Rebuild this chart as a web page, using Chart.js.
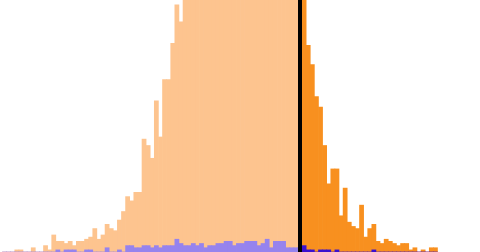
<!DOCTYPE html>
<html>
<head>
<meta charset="utf-8">
<script src="https://cdn.jsdelivr.net/npm/chart.js@4/dist/chart.umd.min.js"></script>
<style>
    html, body { margin: 0; padding: 0; background: #ffffff; }
    #histChart { display: block; }
</style>
</head>
<body>
<canvas id="histChart" width="480" height="252"></canvas>
<script>
// 直方图分箱（单位：箱序号）
const binStart = 0;
const binWidth = 1;
const threshold = 72.5;

// 全部样本计数（橙色）
const allCounts = [
    0, 0, 0, 1, 1, 0, 0, 2, 0, 0,
    3, 1, 8, 5, 5, 4, 5, 3, 5, 5,
    6, 7, 11, 6, 8, 13, 11, 10, 15, 19,
    26, 24, 28, 28, 53, 50, 44, 71, 54, 81,
    81, 98, 116, 108, 125, 138, 150, 158, 170, 181,
    190, 197, 210, 216, 222, 230, 236, 238, 241, 244,
    240, 243, 236, 232, 225, 214, 205, 193, 181, 172,
    160, 150, 140, 126, 97, 88, 73, 68, 50, 32,
    39, 39, 17, 30, 14, 12, 11, 22, 7, 11,
    13, 5, 4, 6, 5, 4, 3, 4, 4, 1,
    2, 0, 1, 0, 2, 2
];

// 子集计数（紫 / 蓝）
const subsetCounts = [
    0, 0, 0, 0, 0, 0, 0, 0, 0, 0,
    0, 0, 0, 1, 0, 1, 1, 1, 0, 0,
    1, 1, 0, 0, 0, 2, 0, 0, 1, 0,
    3, 3, 2, 2, 3, 3, 2, 3, 2, 3,
    3, 3, 6, 4, 3, 3, 4, 3, 4, 2,
    3, 3, 4, 4, 5, 5, 3, 4, 4, 5,
    5, 5, 3, 4, 6, 2, 5, 5, 5, 2,
    2, 2, 2, 3, 1, 1, 0, 1, 1, 1,
    0, 1, 0, 0, 0, 0, 0, 0, 0, 0,
    1, 0, 0, 0, 0, 0, 0, 0, 0, 0,
    0, 0, 0, 0, 0, 0
];

const colors = {
    allBelow: '#fdc48f',
    allAbove: '#f8901f',
    subBelow: '#9683ee',
    subAbove: '#3a10d0',
    line: '#000000'
};

const xMin = -0.6;
const xMax = 116.36;
const yMax = 118.3;

function toPoints(counts) {
    return counts.map((c, i) => ({ x: binStart + (i + 0.5) * binWidth, y: c }));
}

// 阈值两侧用不同颜色
function sideColor(below, above) {
    return ctx => {
        const p = ctx.raw;
        return p && p.x > threshold ? above : below;
    };
}

const ctx = document.getElementById('histChart');

new Chart(ctx, {
    data: {
        datasets: [{
            type: 'line',
            label: 'threshold',
            data: [{ x: threshold, y: 0 }, { x: threshold, y: yMax * 2 }],
            borderColor: colors.line,
            borderWidth: 4,
            pointRadius: 0,
            order: 0
        }, {
            type: 'bar',
            label: 'subset',
            data: toPoints(subsetCounts),
            backgroundColor: sideColor(colors.subBelow, colors.subAbove),
            borderWidth: 0,
            barPercentage: 1,
            categoryPercentage: 1,
            grouped: false,
            order: 1
        }, {
            type: 'bar',
            label: 'all',
            data: toPoints(allCounts),
            backgroundColor: sideColor(colors.allBelow, colors.allAbove),
            borderWidth: 0,
            barPercentage: 1,
            categoryPercentage: 1,
            grouped: false,
            order: 2
        }]
    },
    options: {
        responsive: false,
        animation: false,
        devicePixelRatio: 1,
        layout: { padding: 0 },
        plugins: {
            legend: { display: false },
            tooltip: { enabled: false }
        },
        scales: {
            x: {
                type: 'linear',
                min: xMin,
                max: xMax,
                offset: false,
                display: false
            },
            y: {
                min: 0,
                max: yMax,
                display: false
            }
        }
    }
});
</script>
</body>
</html>
